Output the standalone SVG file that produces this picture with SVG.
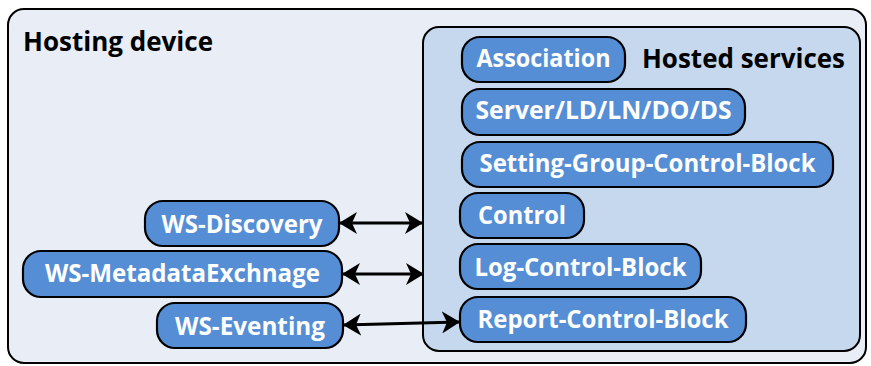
<svg xmlns="http://www.w3.org/2000/svg" width="871" height="366" viewBox="0 0 871 366">
<style>
.node{fill:#558ED5;stroke:#000;stroke-width:2.2}
.lbl{font-family:"Open Sans","Noto Sans",sans-serif;font-weight:bold;font-size:25px;fill:#fff;text-anchor:middle}
.title{font-family:"Open Sans","Noto Sans",sans-serif;font-weight:bold;font-size:26.5px;fill:#000}
.conn{stroke:#000;stroke-width:3;fill:none;marker-start:url(#ah);marker-end:url(#ah)}
</style>
<defs>
<marker id="ah" viewBox="0 0 18 22" refX="17" refY="11" markerWidth="18" markerHeight="22" markerUnits="userSpaceOnUse" orient="auto-start-reverse">
<path d="M0,0 L18,11 L0,22 L5,11 z" fill="#000"/>
</marker>
</defs>
<g id="hosting-device">
<rect x="8" y="9" width="858" height="354" rx="16" fill="#E9EEF6" stroke="#000" stroke-width="2"/>
<text class="title" x="23" y="51" textLength="190" lengthAdjust="spacingAndGlyphs">Hosting device</text>
</g>
<g id="hosted-services">
<rect x="423" y="27" width="437" height="324" rx="16" fill="#C6D8EE" stroke="#000" stroke-width="2"/>
<text class="title" x="642" y="68" textLength="203" lengthAdjust="spacingAndGlyphs">Hosted services</text>
</g>
<g id="association"><rect class="node" x="462" y="37" width="163" height="45" rx="18"/><text class="lbl" x="543.5" y="67" textLength="134" lengthAdjust="spacingAndGlyphs">Association</text></g>
<g id="server"><rect class="node" x="462" y="89" width="283" height="46" rx="18"/><text class="lbl" x="603.5" y="119" textLength="256" lengthAdjust="spacingAndGlyphs">Server/LD/LN/DO/DS</text></g>
<g id="sgcb"><rect class="node" x="462" y="142" width="371" height="45" rx="18"/><text class="lbl" x="647.5" y="172" textLength="336" lengthAdjust="spacingAndGlyphs">Setting-Group-Control-Block</text></g>
<g id="control"><rect class="node" x="460" y="193" width="124" height="45" rx="18"/><text class="lbl" x="522" y="224" textLength="88" lengthAdjust="spacingAndGlyphs">Control</text></g>
<g id="lcb"><rect class="node" x="460" y="244" width="241" height="45" rx="18"/><text class="lbl" x="580.5" y="276" textLength="212" lengthAdjust="spacingAndGlyphs">Log-Control-Block</text></g>
<g id="rcb"><rect class="node" x="460" y="297" width="286" height="45" rx="18"/><text class="lbl" x="603" y="328" textLength="251" lengthAdjust="spacingAndGlyphs">Report-Control-Block</text></g>
<g id="ws-discovery"><rect class="node" x="145" y="201" width="194" height="45" rx="18"/><text class="lbl" x="242" y="233" textLength="161" lengthAdjust="spacingAndGlyphs">WS-Discovery</text></g>
<g id="ws-mex"><rect class="node" x="23" y="251" width="319" height="46" rx="18"/><text class="lbl" x="182.5" y="282" textLength="275" lengthAdjust="spacingAndGlyphs">WS-MetadataExchnage</text></g>
<g id="ws-eventing"><rect class="node" x="157" y="303" width="186" height="45" rx="18"/><text class="lbl" x="250" y="335" textLength="150" lengthAdjust="spacingAndGlyphs">WS-Eventing</text></g>
<g id="connectors">
<line class="conn" x1="340" y1="223" x2="422" y2="223"/>
<line class="conn" x1="343" y1="274" x2="423" y2="274"/>
<line class="conn" x1="344" y1="325" x2="459" y2="322"/>
</g>
</svg>
